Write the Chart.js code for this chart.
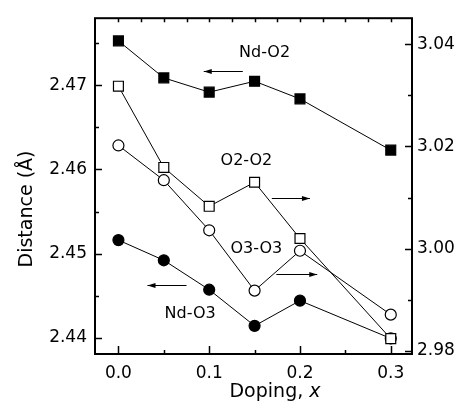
<!DOCTYPE html>
<html>
<head>
<meta charset="utf-8">
<script src="https://cdn.jsdelivr.net/npm/chart.js@4.4.1/dist/chart.umd.min.js"></script>
<style>
  html, body { margin: 0; padding: 0; background: #fff; }
  #wrap { width: 467px; height: 411px; }
</style>
</head>
<body>
<div id="wrap"><canvas id="distChart" width="467" height="411"></canvas></div>
<script>
//doping levels x
const doping = [0.0, 0.05, 0.1, 0.15, 0.2, 0.3];

//left axis series (Å)
const ndO2 = [2.4753, 2.4709, 2.4692, 2.4705, 2.4684, 2.4623];
const ndO3 = [2.4516, 2.4492, 2.4457, 2.4414, 2.4444, 2.4399];

//right axis series (Å)
const o2o2 = [3.0318, 3.0159, 3.0083, 3.0130, 3.0020, 2.9824];
const o3o3 = [3.0202, 3.0134, 3.0036, 2.9918, 2.9996, 2.9871];

//tick labels
const xTicks = [0.0, 0.1, 0.2, 0.3];
const leftTicks = [2.44, 2.45, 2.46, 2.47];
const rightTicks = [2.98, 3.00, 3.02, 3.04];

const FONT = "'DejaVu Sans', sans-serif";

const toPoints = ys => ys.map((y, i) => ({x: doping[i], y}));

//series labels with arrows (left-axis data coords)
const notes = [
    {text: "Nd-O2", x: 0.161, y: 2.4739, from: 0.137, to: 0.094, ay: 2.4717},
    {text: "O2-O2", x: 0.141, y: 2.4610, from: 0.169, to: 0.211, ay: 2.4566},
    {text: "O3-O3", x: 0.152, y: 2.4506, from: 0.174, to: 0.219, ay: 2.4476},
    {text: "Nd-O3", x: 0.079, y: 2.4428, from: 0.075, to: 0.032, ay: 2.4463}
];

//frame, inward ticks, titles, notes
const framePlugin = {
    id: "frame",
    afterDatasetsDraw(chart) {
        const ctx = chart.ctx;
        const {left, right, top, bottom} = chart.chartArea;
        const xs = chart.scales.x, yl = chart.scales.y, yr = chart.scales.y2;

        ctx.save();
        ctx.strokeStyle = "#000";
        ctx.lineWidth = 1.5;
        ctx.beginPath();

        //bottom ticks every 0.05, top every 0.025
        for (let v = 0; v <= 0.3001; v += 0.05) {
            const px = Math.round(xs.getPixelForValue(v)) + 0.5;
            const major = Math.abs(v * 10 - Math.round(v * 10)) < 1e-6;
            ctx.moveTo(px, bottom);
            ctx.lineTo(px, bottom - (major ? 8 : 4));
        }
        for (let v = 0; v <= 0.3201; v += 0.025) {
            const px = Math.round(xs.getPixelForValue(v)) + 0.5;
            ctx.moveTo(px, top);
            ctx.lineTo(px, top + 4);
        }
        //left ticks
        for (let v = 2.44; v <= 2.4751; v += 0.005) {
            const py = Math.round(yl.getPixelForValue(v)) + 0.5;
            const major = Math.abs(v * 100 - Math.round(v * 100)) < 1e-6;
            ctx.moveTo(left, py);
            ctx.lineTo(left + (major ? 7 : 4), py);
        }
        //right ticks
        for (let v = 2.98; v <= 3.0401; v += 0.01) {
            const py = Math.round(yr.getPixelForValue(v)) + 0.5;
            const major = Math.abs(v * 50 - Math.round(v * 50)) < 1e-6;
            ctx.moveTo(right, py);
            ctx.lineTo(right - (major ? 7 : 4), py);
        }
        ctx.stroke();

        ctx.lineWidth = 2;
        ctx.strokeRect(left, top, right - left, bottom - top);

        //notes
        ctx.fillStyle = "#000";
        ctx.font = "16px " + FONT;
        ctx.textAlign = "center";
        ctx.textBaseline = "middle";
        ctx.lineWidth = 1;
        notes.forEach(n => {
            ctx.fillText(n.text, xs.getPixelForValue(n.x), yl.getPixelForValue(n.y));
            const x1 = xs.getPixelForValue(n.from);
            const x2 = xs.getPixelForValue(n.to);
            const y = Math.round(yl.getPixelForValue(n.ay)) + 0.5;
            const dir = x2 > x1 ? 1 : -1;
            ctx.beginPath();
            ctx.moveTo(x1, y);
            ctx.lineTo(x2, y);
            ctx.stroke();
            ctx.beginPath();
            ctx.moveTo(x2, y);
            ctx.lineTo(x2 - dir * 8, y - 2.5);
            ctx.lineTo(x2 - dir * 8, y + 2.5);
            ctx.closePath();
            ctx.fill();
        });

        //axis titles
        ctx.font = "19px " + FONT;
        ctx.save();
        ctx.translate(27, 209);
        ctx.rotate(-Math.PI / 2);
        ctx.fillText("Distance (Å)", 0, 0);
        ctx.restore();

        const a = "Doping, ";
        ctx.textAlign = "left";
        const wa = ctx.measureText(a).width;
        ctx.font = "italic 19px " + FONT;
        const wb = ctx.measureText("x").width;
        const x0 = 275 - (wa + wb) / 2;
        ctx.font = "19px " + FONT;
        ctx.fillText(a, x0, 392);
        ctx.font = "italic 19px " + FONT;
        ctx.fillText("x", x0 + wa, 392);
        ctx.restore();
    }
};

const lineStyle = {
    borderColor: "#000",
    borderWidth: 1,
    pointBorderColor: "#000",
    pointBorderWidth: 1.2,
    tension: 0
};

new Chart(document.getElementById("distChart"), {
    type: "line",
    data: {
        datasets: [
            {label: "O2-O2", data: toPoints(o2o2), yAxisID: "y2", pointStyle: "rect",
                pointRadius: 7, pointBackgroundColor: "#fff", ...lineStyle},
            {label: "O3-O3", data: toPoints(o3o3), yAxisID: "y2", pointStyle: "circle",
                pointRadius: 5.5, pointBackgroundColor: "#fff", ...lineStyle},
            {label: "Nd-O2", data: toPoints(ndO2), yAxisID: "y", pointStyle: "rect",
                pointRadius: 7, pointBackgroundColor: "#000", ...lineStyle},
            {label: "Nd-O3", data: toPoints(ndO3), yAxisID: "y", pointStyle: "circle",
                pointRadius: 5.5, pointBackgroundColor: "#000", ...lineStyle}
        ]
    },
    options: {
        responsive: false,
        animation: false,
        devicePixelRatio: 1,
        layout: {padding: {top: 6, left: 0, right: 0, bottom: 0}},
        plugins: {legend: {display: false}, tooltip: {enabled: false}},
        scales: {
            x: {
                type: "linear",
                min: -0.0258,
                max: 0.3234,
                grid: {display: false, drawTicks: false},
                border: {display: false},
                afterBuildTicks: s => { s.ticks = xTicks.map(v => ({value: v})); },
                afterFit: s => { s.height = 57; },
                ticks: {
                    padding: 9,
                    color: "#000",
                    font: {family: FONT, size: 17},
                    maxRotation: 0,
                    callback: v => v.toFixed(1)
                }
            },
            y: {
                position: "left",
                min: 2.43805,
                max: 2.4780,
                grid: {display: false, drawTicks: false},
                border: {display: false},
                afterBuildTicks: s => { s.ticks = leftTicks.map(v => ({value: v})); },
                afterFit: s => { s.width = 95; },
                ticks: {
                    padding: 8,
                    color: "#000",
                    font: {family: FONT, size: 17},
                    callback: v => v.toFixed(2)
                }
            },
            y2: {
                position: "right",
                min: 2.9794,
                max: 3.0451,
                grid: {display: false, drawTicks: false},
                border: {display: false},
                afterBuildTicks: s => { s.ticks = rightTicks.map(v => ({value: v})); },
                afterFit: s => { s.width = 55; },
                ticks: {
                    padding: 5,
                    color: "#000",
                    font: {family: FONT, size: 17},
                    callback: v => v.toFixed(2)
                }
            }
        }
    },
    plugins: [framePlugin]
});
</script>
</body>
</html>
